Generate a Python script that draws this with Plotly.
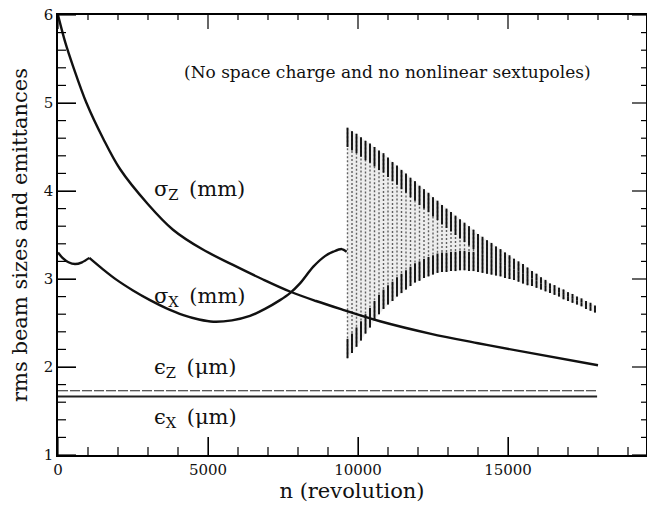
import plotly.graph_objects as go

# ---------------- data ----------------
sz_n = [0, 250, 500, 950, 1500, 2067, 3000, 3833, 4800, 5833, 6800, 7750, 8600, 9500,
        10733, 12400, 14000, 15733, 18000]
sz_v = [6.0, 5.68, 5.42, 5.0, 4.6, 4.25, 3.85, 3.56, 3.34, 3.16, 3.0, 2.855, 2.75, 2.65,
        2.52, 2.38, 2.27, 2.16, 2.02]

sxa_n = [0, 150, 350, 567, 800, 1044]
sxa_v = [3.30, 3.24, 3.19, 3.17, 3.19, 3.24]

sxb_n = [1044, 1500, 1956, 2500, 3067, 3600, 4178, 4700, 5178, 5800, 6400, 6900, 7400,
         7733, 8067, 8511, 8900, 9178, 9456, 9622]
sxb_v = [3.24, 3.11, 2.99, 2.87, 2.76, 2.67, 2.59, 2.54, 2.515, 2.53, 2.58, 2.66, 2.76,
         2.84, 2.95, 3.14, 3.26, 3.31, 3.34, 3.31]

osc_n = [9650, 9800, 9950, 10100, 10250, 10400, 10550, 10700, 10850, 11000, 11150, 11300,
         11450, 11600, 11750, 11900, 12050, 12200, 12350, 12500, 12650, 12800, 12950, 13100,
         13250, 13400, 13550, 13700, 13850, 14000, 14150, 14300, 14450, 14600, 14750, 14900,
         15050, 15200, 15350, 15500, 15650, 15800, 15950, 16100, 16250, 16400, 16550, 16700,
         16850, 17000, 17150, 17300, 17450, 17600, 17750, 17900]
osc_hi = [4.72, 4.68, 4.65, 4.61, 4.57, 4.54, 4.50, 4.46, 4.43, 4.38, 4.33, 4.29,
          4.24, 4.20, 4.15, 4.11, 4.06, 4.02, 3.98, 3.93, 3.89, 3.84, 3.80, 3.76,
          3.72, 3.68, 3.64, 3.60, 3.56, 3.51, 3.48, 3.44, 3.41, 3.37, 3.34, 3.30,
          3.27, 3.23, 3.20, 3.17, 3.13, 3.09, 3.06, 3.02, 2.99, 2.95, 2.93, 2.90,
          2.88, 2.85, 2.83, 2.80, 2.78, 2.75, 2.73, 2.70]
osc_lo = [2.10, 2.16, 2.23, 2.30, 2.38, 2.45, 2.53, 2.60, 2.66, 2.71, 2.75, 2.80,
          2.84, 2.88, 2.92, 2.96, 2.98, 3.01, 3.03, 3.05, 3.07, 3.08, 3.08, 3.09,
          3.09, 3.10, 3.10, 3.09, 3.09, 3.08, 3.07, 3.06, 3.05, 3.04, 3.03, 3.01,
          3.00, 2.99, 2.97, 2.95, 2.93, 2.92, 2.90, 2.88, 2.86, 2.84, 2.82, 2.80,
          2.77, 2.75, 2.73, 2.71, 2.69, 2.66, 2.64, 2.62]

eps_n = [0, 17970]
eps_z = [1.73, 1.73]
eps_x = [1.665, 1.665]

# axis ticks
x_major = [0, 5000, 10000, 15000]
x_minor = [1000, 2000, 3000, 4000, 6000, 7000, 8000, 9000, 11000, 12000, 13000, 14000,
           16000, 17000, 18000, 19000]
y_major = [1, 2, 3, 4, 5, 6]
y_minor = [1.2, 1.4, 1.6, 1.8, 2.2, 2.4, 2.6, 2.8, 3.2, 3.4, 3.6, 3.8, 4.2, 4.4, 4.6, 4.8,
           5.2, 5.4, 5.6, 5.8]

X_RANGE = [0, 19600]
Y_RANGE = [1, 6]
PLOT_W, PLOT_H = 588, 440          # plot area in pixels
XU = (X_RANGE[1] - X_RANGE[0]) / PLOT_W   # data units per pixel
YU = (Y_RANGE[1] - Y_RANGE[0]) / PLOT_H

FONT = "DejaVu Serif"
BLACK = "#111111"

fig = go.Figure()

fig.add_trace(go.Scatter(x=sz_n, y=sz_v, mode="lines",
                         line=dict(color=BLACK, width=2.4, shape="spline", smoothing=1.0),
                         showlegend=False, hoverinfo="skip"))
for xs, ys in ((sxa_n, sxa_v), (sxb_n, sxb_v)):
    fig.add_trace(go.Scatter(x=xs, y=ys, mode="lines",
                             line=dict(color=BLACK, width=2.4, shape="spline", smoothing=0.9),
                             showlegend=False, hoverinfo="skip"))

fig.add_trace(go.Scatter(x=osc_n, y=osc_lo, mode="lines", line=dict(width=0, color="rgba(0,0,0,0)"),
                         showlegend=False, hoverinfo="skip"))
fig.add_trace(go.Scatter(x=osc_n, y=osc_hi, mode="lines", line=dict(width=0, color="rgba(0,0,0,0)"),
                         fill="tonexty", fillcolor="rgba(0,0,0,0.07)", showlegend=False, hoverinfo="skip"))

col_x, col_y = [], []
top_x, top_y = [], []
DARK = 0.22
for n, hi, lo in zip(osc_n, osc_hi, osc_lo):
    col_x += [n, n, None]
    col_y += [lo, hi, None]
    d = min(DARK, 0.5 * (hi - lo))
    top_x += [n, n, None, n, n, None]
    top_y += [hi, hi - d, None, lo, lo + d, None]
fig.add_trace(go.Scatter(x=col_x, y=col_y, mode="lines",
                         line=dict(color="rgba(0,0,0,0.6)", width=1.4, dash="2px,2px"),
                         showlegend=False, hoverinfo="skip", connectgaps=False))
fig.add_trace(go.Scatter(x=top_x, y=top_y, mode="lines", line=dict(color=BLACK, width=1.9),
                         showlegend=False, hoverinfo="skip", connectgaps=False))

fig.add_trace(go.Scatter(x=eps_n, y=eps_z, mode="lines", line=dict(color="#222222", width=1.1, dash="10px,2px"),
                         showlegend=False, hoverinfo="skip"))
fig.add_trace(go.Scatter(x=eps_n, y=eps_x, mode="lines", line=dict(color="#222222", width=1.9),
                         showlegend=False, hoverinfo="skip"))

# ---- inward-pointing ticks on all four sides (built from the tick lists) ----
tx, ty = [], []
for vals, bot_len, top_len in ((x_major, 18, 14), (x_minor, 8, 5)):
    for v in vals:
        tx += [v, v, None, v, v, None]
        ty += [Y_RANGE[0], Y_RANGE[0] + bot_len * YU, None,
               Y_RANGE[1], Y_RANGE[1] - top_len * YU, None]
for vals, left_len, right_len in ((y_major, 18, 14), (y_minor, 8, 5)):
    for v in vals:
        tx += [X_RANGE[0], X_RANGE[0] + left_len * XU, None,
               X_RANGE[1], X_RANGE[1] - right_len * XU, None]
        ty += [v, v, None, v, v, None]
fig.add_trace(go.Scatter(x=tx, y=ty, mode="lines", line=dict(color="black", width=1.2),
                         showlegend=False, hoverinfo="skip", connectgaps=False, cliponaxis=False))

SP = "\u2002"
labels = [
    ("σ<sub>Z</sub>" + SP + "(mm)", 3130, 4.01),
    ("σ<sub>X</sub>" + SP + "(mm)", 3130, 2.80),
    ("ϵ<sub>Z</sub>" + SP + "(μm)", 3130, 1.985),
    ("ϵ<sub>X</sub>" + SP + "(μm)", 3130, 1.42),
]
for txt, xx, yy in labels:
    fig.add_annotation(x=xx, y=yy, xref="x", yref="y", text=txt, showarrow=False,
                       xanchor="left", yanchor="middle", font=dict(family=FONT, size=21, color=BLACK))

fig.add_annotation(x=0.56, y=(455 - 72) / 88 + 1, xref="paper", yref="y",
                   text="(No space charge and no nonlinear sextupoles)",
                   showarrow=False, font=dict(family=FONT, size=17, color=BLACK))

fig.update_layout(
    template="none",
    width=647, height=508,
    margin=dict(l=58, r=1, t=15, b=53),
    paper_bgcolor="white", plot_bgcolor="white",
    font=dict(family=FONT, size=15, color=BLACK),
    xaxis=dict(range=X_RANGE, tickmode="array", tickvals=x_major, ticktext=[str(v) for v in x_major],
               ticks="inside", ticklen=18, tickcolor="black",
               showline=True, mirror=True, linecolor="black", linewidth=1.5,
               showgrid=False, zeroline=False,
               title=dict(text="n (revolution)", font=dict(family=FONT, size=21), standoff=6),
               tickfont=dict(family=FONT, size=15, color=BLACK)),
    yaxis=dict(range=Y_RANGE, tickmode="array", tickvals=y_major, ticktext=[str(v) for v in y_major],
               ticks="inside", ticklen=18, tickcolor="black",
               showline=True, mirror=True, linecolor="black", linewidth=1.5,
               showgrid=False, zeroline=False,
               title=dict(text="rms beam sizes and emittances", font=dict(family=FONT, size=21), standoff=10),
               tickfont=dict(family=FONT, size=15, color=BLACK)),
)

fig.write_html("out.html")
